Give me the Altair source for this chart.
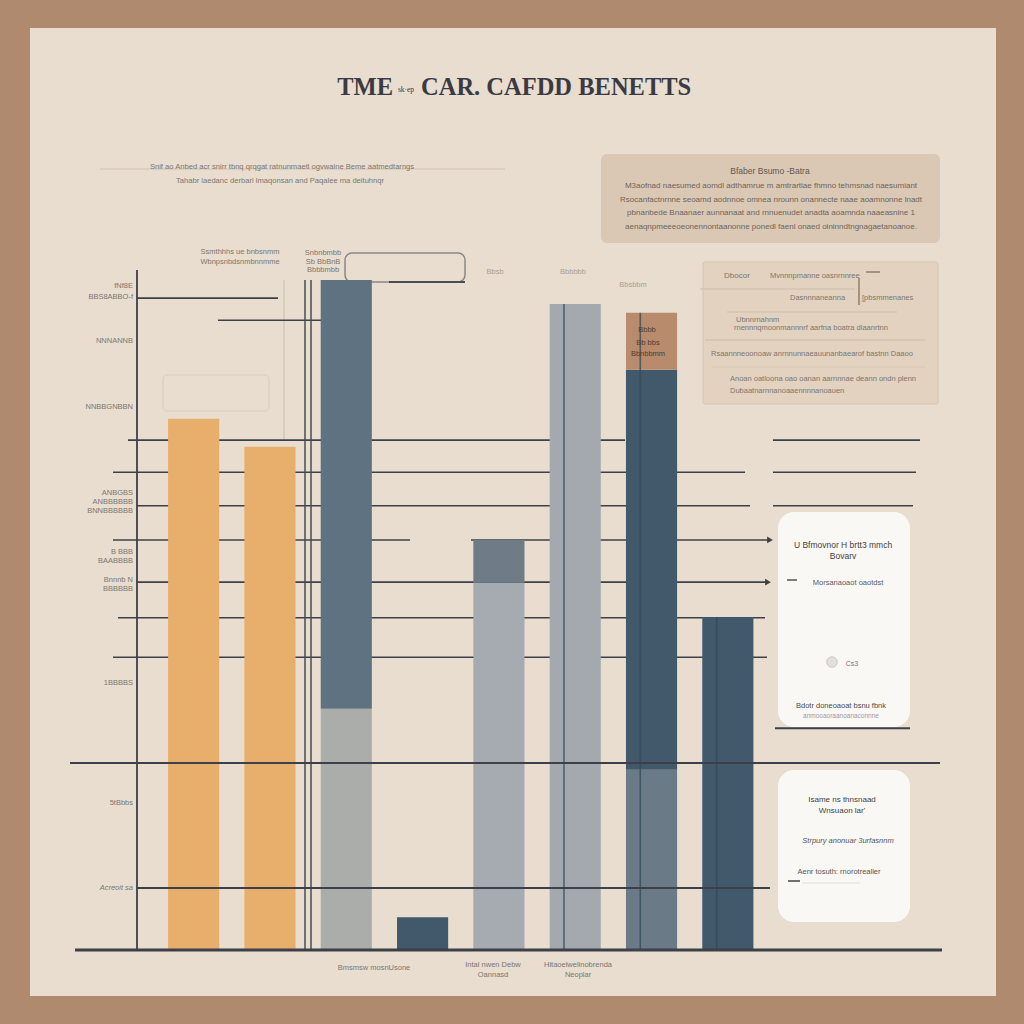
import altair as alt
import pandas as pd

# ---------------- data ----------------
title_lead = "TME"
title_small = "sk·ep"
title_main = "CAR. CAFDD BENETTS"

categories = ["Bar A", "Bar B", "Bar C", "Bar D", "Bar E", "Bar F", "Bar G", "Bar H"]
base_vals = [79.3, 75.1, 36.0, 4.9, 54.8, 96.4, 26.9, 49.7]
mid_vals = [0.0, 0.0, 64.0, 0.0, 6.4, 0.0, 59.7, 0.0]
top_vals = [0.0, 0.0, 0.0, 0.0, 0.0, 0.0, 8.5, 0.0]
base_tone = ["amber", "amber", "stone", "ink", "mist", "fog", "dusk", "ink"]
mid_tone = ["", "", "slate", "", "pewter", "", "ink", ""]
top_tone = ["", "", "", "", "", "", "clay", ""]
inner_line_bars = ["Bar F", "Bar G", "Bar H"]

tone_names = ["amber", "stone", "slate", "ink", "mist", "pewter", "fog", "dusk", "clay"]
tone_colors = ["#e8ae6b", "#abadab", "#5f7282", "#41596a", "#a5abb0", "#6f7c87",
               "#a3a9ae", "#6a7b87", "#b98b6d"]

# horizontal guide levels (value units)
lv_a, lv_b = 97.3, 94.0
grid_back = [76.1, 71.3, 66.3, 61.2, 54.9, 49.6, 43.7]
grid_front = [27.9, 9.25]
card_rule = 33.1

y_labels = ["fNf8E", "BBS8ABBO-f", "NNNANNB", "NNBBGNBBN", "ANBGBS", "ANBBBBBB",
            "BNNBBBBBB", "B BBB", "BAABBBB", "Bnnnb  N", "BBBBBB", "1BBBBS",
            "5tBbbs", "Acreoit sa"]
x_labels = ["Bmsmsw mosnUsone", "Intal nwen Debw", "Oannasd",
            "Hitaoelwelinobrenda", "Neoplar"]

subtitle = ["Snif ao Anbed acr snirr tbnq qrqgat ratnunmaetl ogvwaine Beme aatmedtarngs",
            "Tahabr laedanc derbarl lmaqonsan and Paqalee ma deituhnqr"]
box1_head = "Bfaber Bsumo -Batra"
box1_lines = ["M3aofnad naesumed aomdl adthamrue m amtrartiae fhmno tehmsnad naesumiant",
              "Rsocanfactnrnne seoamd aodnnoe omnea nrounn onannecte naae aoamnonne lnadt",
              "pbnanbede Bnaanaer aunnanaat and rnnuenudet anadta aoamnda naaeasnine 1",
              "aenaqnpmeeeoeonennontaanonne ponedl faenl onaed olninndtngnagaetanoanoe."]
box2_lines = ["Dbocor", "Mvnnnpmanne oasnrnnree", "Dasnnnaneanna", "[pbsmmenanes",
              "Ubnnrnahnm", "rnennnqmoonmannnrf aarfna boatra dlaanrtnn",
              "Rsaannneoonoaw anrnnunnaeauunanbaearof bastnn Daaoo",
              "Anoan oatloona oao oanan aarnnnae deann ondn plenn",
              "Dubaatnarnnanoaaennnnanoauen"]
card1_lines = ["U Bfmovnor H brtt3 mmch", "Bovarv", "Morsanaoaot oaotdst",
               "Bdotr doneoaoat bsnu fbnk", "anmooaoraanoanaconnne"]
card2_lines = ["Isame ns thnsnaad", "Wnsuaon lar'", "Strpury anonuar 3urfasnnm",
               "Aenr tosuth: rnorotrealler"]
top_notes = ["Ssmthhhs ue bnbsnmm", "Wbnpsnbdsnmbnnmme", "Snbnbmbb", "Sb BbBnB", "Bbbbmbb",
             "Bbsb", "Bbbbbb", "Bbsbbm", "Bbbb", "Bb bbs", "Bbnbbmm"]

# ---------------- styling ----------------
OX, OY = 30, 28
BG = "#b08a6e"
PANEL = "#e8ddcf"
LINE = "#3d4049"
SANS = "Liberation Sans"
SERIF = "Liberation Serif"
GRAY_TXT = "#7c7670"

yscale = alt.Scale(domain=[0, 100], range=[922, 252], nice=False, zero=False)
xscale = alt.Scale(domain=categories, range=[125.5, 736], paddingInner=0.33, paddingOuter=0.165)
cscale = alt.Scale(domain=tone_names, range=tone_colors)

one = pd.DataFrame({"k": [0]})


def px(x):
    return x - OX


def py(y):
    return y - OY


def rule_img(x1, y1, x2, y2, color=LINE, width=1.6, opacity=1.0):
    return alt.Chart(one).mark_rule(color=color, strokeWidth=width, opacity=opacity).encode(
        x=alt.value(px(x1)), x2=alt.value(px(x2)), y=alt.value(py(y1)), y2=alt.value(py(y2)))


def hline(level, x1, x2, color=LINE, width=1.6, opacity=1.0):
    return alt.Chart(pd.DataFrame({"v": [level]})).mark_rule(
        color=color, strokeWidth=width, opacity=opacity).encode(
        y=alt.Y("v:Q", scale=yscale, axis=None), x=alt.value(px(x1)), x2=alt.value(px(x2)))


def arrow(level, x):
    return alt.Chart(pd.DataFrame({"v": [level]})).mark_point(
        shape="triangle-right", filled=True, size=45, color=LINE, opacity=1).encode(
        y=alt.Y("v:Q", scale=yscale, axis=None), x=alt.value(px(x)))


def text_img(s, x, y, size=8, color=GRAY_TXT, align="center", weight="normal", font=SANS,
             style="normal"):
    return alt.Chart(one).mark_text(text=s, fontSize=size, color=color, align=align,
                                    baseline="middle", font=font, fontWeight=weight,
                                    fontStyle=style).encode(
        x=alt.value(px(x)), y=alt.value(py(y)))


def box_img(x1, y1, x2, y2, fill, radius=0, stroke=None, sw=1.0, opacity=1.0):
    kw = dict(fill=fill, cornerRadius=radius, opacity=opacity)
    if stroke is not None:
        kw.update(stroke=stroke, strokeWidth=sw)
    return alt.Chart(one).mark_rect(**kw).encode(
        x=alt.value(px(x1)), x2=alt.value(px(x2)), y=alt.value(py(y1)), y2=alt.value(py(y2)))


# ---------------- bar segments ----------------
rows = []
for i, c in enumerate(categories):
    lo = 0.0
    for vals, tones in ((base_vals, base_tone), (mid_vals, mid_tone), (top_vals, top_tone)):
        v = vals[i]
        if v > 0:
            rows.append({"cat": c, "lo": lo, "hi": lo + v, "tone": tones[i]})
            lo += v
seg_df = pd.DataFrame(rows)

bars = alt.Chart(seg_df).mark_bar().encode(
    x=alt.X("cat:N", scale=xscale, axis=None, sort=categories),
    y=alt.Y("lo:Q", scale=yscale, axis=None),
    y2="hi:Q",
    color=alt.Color("tone:N", scale=cscale, legend=None),
)

tot = {c: base_vals[i] + mid_vals[i] + top_vals[i] for i, c in enumerate(categories)}
inner_df = pd.DataFrame({"cat": inner_line_bars, "lo": [0.0] * 3,
                         "hi": [tot[c] for c in inner_line_bars]})
inner_lines = alt.Chart(inner_df).mark_rule(strokeWidth=1.6, color="#34495a", opacity=0.75).encode(
    x=alt.X("cat:N", scale=xscale, axis=None, sort=categories, bandPosition=0.28),
    y=alt.Y("lo:Q", scale=yscale, axis=None), y2="hi:Q")

layers = []

# decorative header / boxes
layers.append(rule_img(100, 169, 505, 169, color="#cfc2b1", width=1))
layers += [text_img(subtitle[0], 282, 167, size=7.6),
           text_img(subtitle[1], 280, 181, size=7.6)]
layers.append(text_img(title_lead, 393, 88, size=24.5, color="#3a3a44", align="right",
                       weight="bold", font=SERIF))
layers.append(text_img(title_small, 406, 90, size=7.5, color="#3a3a44", font=SERIF))
layers.append(text_img(title_main, 421, 88, size=24.5, color="#3a3a44", align="left",
                       weight="bold", font=SERIF))

layers.append(box_img(601, 154, 940, 243, "#dac8b5", radius=6))
layers.append(text_img(box1_head, 770, 171, size=8.5, color="#5e564f"))
for j, (s, y) in enumerate(zip(box1_lines, [186, 200, 213, 227])):
    layers.append(text_img(s, 771, y, size=8, color="#6e645a"))

layers.append(box_img(703, 262, 938, 404, "#e2d2bf", radius=2, stroke="#d6c5b2"))
layers += [rule_img(700, 289, 855, 289, color="#cdbca8", width=1),
           rule_img(727, 312, 897, 312, color="#cdbca8", width=1),
           rule_img(705, 340, 925, 340, color="#cdbca8", width=1),
           rule_img(712, 367, 925, 367, color="#d6c6b3", width=1),
           rule_img(859, 278, 859, 305, color="#7a6a5e", width=1.2),
           rule_img(866, 272, 880, 272, color="#7a6a5e", width=1.2)]
layers += [text_img(box2_lines[0], 724, 276, size=8, align="left"),
           text_img(box2_lines[1], 770, 276, size=7.5, align="left"),
           text_img(box2_lines[2], 790, 298, size=7.5, align="left"),
           text_img(box2_lines[3], 862, 298, size=7.5, align="left"),
           text_img(box2_lines[4], 736, 320, size=7.5, align="left"),
           text_img(box2_lines[5], 734, 328, size=7.5, align="left"),
           text_img(box2_lines[6], 711, 354, size=7.5, align="left"),
           text_img(box2_lines[7], 730, 379, size=7.5, align="left"),
           text_img(box2_lines[8], 730, 391, size=7.5, align="left")]

# faint outlines
layers.append(box_img(163, 375, 269, 411, "none", radius=4, stroke="#d8ccbd", sw=1))
layers.append(rule_img(284, 280, 284, 440, color="#c9bdae", width=1))
layers.append(box_img(345, 253, 465, 282, "none", radius=7, stroke="#8a8884", sw=1.5))

# guide lines behind bars
layers += [hline(lv_a, 137, 278), hline(lv_b, 218, 337)]
back_spans = [(128, 625), (113, 745), (137, 750), (113, 410), (137, 768), (118, 765), (113, 767)]
for lvl, (a, b) in zip(grid_back, back_spans):
    layers.append(hline(lvl, a, b))
layers.append(hline(grid_back[3], 471, 768))
layers += [arrow(grid_back[3], 770), arrow(grid_back[4], 768)]
right_spans = [(773, 920), (773, 916), (773, 913)]
for lvl, (a, b) in zip(grid_back[:3], right_spans):
    layers.append(hline(lvl, a, b))
layers.append(hline(card_rule, 775, 910, width=2))

# cards
layers.append(box_img(778, 512, 910, 727, "#faf8f5", radius=16))
layers.append(box_img(778, 770, 910, 922, "#faf8f5", radius=16))
layers += [text_img(card1_lines[0], 843, 545, size=8.5, color="#3f3f45"),
           text_img(card1_lines[1], 843, 556, size=8.5, color="#3f3f45"),
           rule_img(787, 580, 797, 580, color="#555", width=1.5),
           text_img(card1_lines[2], 848, 583, size=7.5, color="#5a5a5f"),
           text_img(card1_lines[3], 841, 706, size=7.5, color="#4a4a50"),
           text_img(card1_lines[4], 841, 716, size=6.5, color="#9a98a8")]
layers.append(alt.Chart(one).mark_point(shape="circle", filled=True, size=110, color="#d9d6d0",
                                        stroke="#b9b5ae", strokeWidth=1).encode(
    x=alt.value(px(832)), y=alt.value(py(662))))
layers.append(text_img("Cs3", 852, 664, size=7, color="#777"))
layers += [text_img(card2_lines[0], 842, 800, size=8, color="#3f3f45"),
           text_img(card2_lines[1], 842, 811, size=8, color="#3f3f45"),
           text_img(card2_lines[2], 848, 841, size=7.5, color="#555", style="italic"),
           text_img(card2_lines[3], 839, 872, size=7.5, color="#555"),
           rule_img(788, 881, 800, 881, color="#444", width=1.5),
           rule_img(802, 883, 860, 883, color="#ddd", width=1)]

# bars and inner lines
layers += [bars, inner_lines]

# axis and verticals
layers.append(rule_img(137, 270, 137, 950, width=1.8))
layers.append(rule_img(305, 280, 305, 950, color="#4a4d55", width=1.5))
layers.append(rule_img(311, 280, 311, 950, color="#4a4d55", width=1.5))
layers.append(rule_img(389, 282, 465, 282, color="#4a4d55", width=2))

# front lines
layers.append(hline(grid_front[0], 70, 940, width=2))
layers.append(hline(grid_front[1], 137, 770, width=2))
layers.append(hline(0, 75, 942, width=3))

# left axis labels
ylab_pos = [286, 297, 341, 407, 493, 502, 511, 552, 561, 580, 589, 683, 803, 888]
for s, y in zip(y_labels, ylab_pos):
    layers.append(text_img(s, 133, y, size=7.5, align="right",
                           style="italic" if s == y_labels[-1] else "normal"))

# top notes
note_pos = [(240, 252), (240, 262), (323, 253), (323, 262), (323, 270), (495, 272), (573, 272),
            (633, 285), (647, 330), (648, 343), (648, 354)]
for j, (s, (x, y)) in enumerate(zip(top_notes, note_pos)):
    col = "#4a3e36" if j >= 8 else GRAY_TXT
    op_col = "#a99e92" if j in (5, 6, 7) else col
    layers.append(text_img(s, x, y, size=7.5, color=op_col))

# bottom labels
layers += [text_img(x_labels[0], 374, 968, size=7.5),
           text_img(x_labels[1], 493, 965, size=7.5),
           text_img(x_labels[2], 493, 975, size=7.5),
           text_img(x_labels[3], 578, 965, size=7.5),
           text_img(x_labels[4], 578, 975, size=7.5)]

chart = alt.layer(*layers).properties(
    width=966, height=968,
    autosize=alt.AutoSizeParams(type="none"),
    padding={"left": OX, "top": OY, "right": 28, "bottom": 28},
    background=BG,
).configure_view(stroke=None, fill=PANEL)

chart.save("out.html", embed_options={"renderer": "svg", "actions": False})
